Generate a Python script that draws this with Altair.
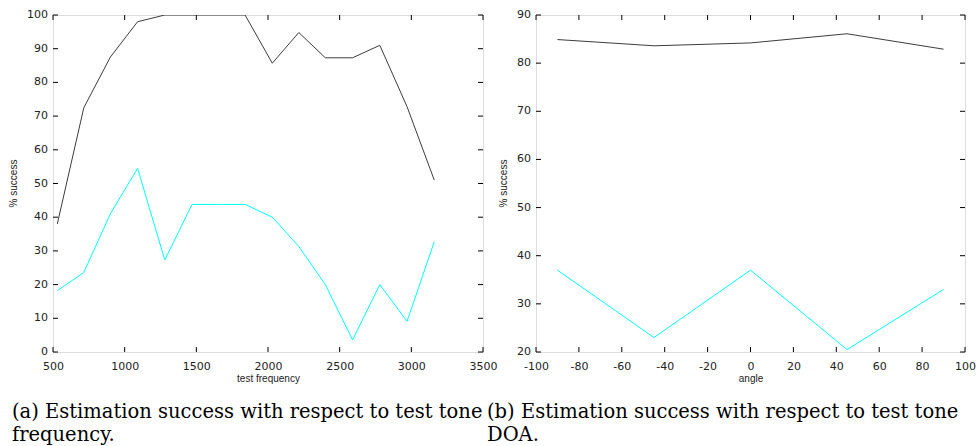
import altair as alt
import pandas as pd

# ---- data ----
freq = [530, 715, 900, 1090, 1280, 1470, 1655, 1840, 2030, 2215, 2400, 2590, 2780, 2970, 3160]
freq_upper = [38, 72.5, 87.5, 98, 100, 100, 100, 100, 85.7, 94.8, 87.3, 87.3, 91, 72.8, 51]
freq_lower = [18.2, 23.6, 41, 54.5, 27.3, 43.8, 43.8, 43.8, 40, 31.3, 20, 3.6, 20, 9.1, 32.7]

angle = [-90, -45, 0, 45, 90]
angle_upper = [84.9, 83.6, 84.2, 86.1, 82.9]
angle_lower = [37, 23, 37, 20.5, 33]

freq_xticks = [500, 1000, 1500, 2000, 2500, 3000, 3500]
freq_yticks = [0, 10, 20, 30, 40, 50, 60, 70, 80, 90, 100]
angle_xticks = [-100, -80, -60, -40, -20, 0, 20, 40, 60, 80, 100]
angle_yticks = [20, 30, 40, 50, 60, 70, 80, 90]

series_names = ["upper", "lower"]
series_colors = ["#3c3c3c", "#00ffff"]

caption_a = ["(a) Estimation success with respect to test tone", "frequency."]
caption_b = ["(b) Estimation success with respect to test tone", "DOA."]


def long_df(xs, up, lo):
    rows = []
    for x, v in zip(xs, up):
        rows.append({"x": x, "v": v, "series": series_names[0]})
    for x, v in zip(xs, lo):
        rows.append({"x": x, "v": v, "series": series_names[1]})
    return pd.DataFrame(rows)


LF = "DejaVu Sans"
TF = "Liberation Sans"
H = 337
TL = 5  # inner tick length


def panel(df, xdom, xticks, ydom, yticks, xtitle, caption, dx, W, yext):
    xs = alt.Scale(domain=xdom, nice=False, zero=False)
    ys = alt.Scale(domain=ydom, nice=False, zero=False)
    col = alt.Color("series:N", scale=alt.Scale(domain=series_names, range=series_colors), legend=None)

    x_axis = alt.Axis(
        orient="bottom", values=xticks, ticks=False, domain=False, grid=False,
        labelExpr="'' + datum.value", labelFont=LF, labelFontSize=11, labelColor="#222",
        labelPadding=8, labelOverlap=False, labelFlush=False, title=xtitle, titleFont=TF,
        titleFontSize=10, titleFontWeight="normal", titleColor="#222", titlePadding=2)
    y_axis = alt.Axis(
        orient="left", values=yticks, ticks=False, domain=False, grid=False, translate=0,
        labelExpr="'' + datum.value", labelFont=LF, labelFontSize=11, labelColor="#222",
        labelPadding=5, labelFlush=False, minExtent=yext, maxExtent=yext, title="% success",
        titleFont=TF, titleFontSize=10, titleFontWeight="normal", titleColor="#222", titlePadding=8)

    main = alt.Chart(df).mark_line(strokeWidth=1, clip=True).encode(
        x=alt.X("x:Q", scale=xs, axis=x_axis),
        y=alt.Y("v:Q", scale=ys, axis=y_axis),
        color=col,
    )

    xt = pd.DataFrame({"x": xticks})
    yt = pd.DataFrame({"v": yticks})
    rule = dict(color="black", strokeWidth=1)
    xt_bottom = alt.Chart(xt).mark_rule(**rule).encode(
        x=alt.X("x:Q", scale=xs, axis=None), y=alt.value(H), y2=alt.value(H - TL))
    xt_top = alt.Chart(xt).mark_rule(**rule).encode(
        x=alt.X("x:Q", scale=xs, axis=None), y=alt.value(0), y2=alt.value(TL))
    yt_left = alt.Chart(yt).mark_rule(**rule).encode(
        y=alt.Y("v:Q", scale=ys, axis=None), x=alt.value(0), x2=alt.value(TL))
    yt_right = alt.Chart(yt).mark_rule(**rule).encode(
        y=alt.Y("v:Q", scale=ys, axis=None), x=alt.value(W), x2=alt.value(W - TL))

    return alt.layer(main, xt_bottom, xt_top, yt_left, yt_right).resolve_axis(
        x="independent", y="independent"
    ).properties(
        width=W, height=H,
        title=alt.TitleParams(text=caption, orient="bottom", anchor="start", frame="group",
                              font="DejaVu Serif", fontSize=19.5, fontWeight="normal", color="black",
                              offset=20, dx=dx, lineHeight=23),
    )


left = panel(long_df(freq, freq_upper, freq_lower), [500, 3500], freq_xticks, [0, 100], freq_yticks,
             "test frequency", caption_a, -41, 430, 26)
right = panel(long_df(angle, angle_upper, angle_lower), [-100, 100], angle_xticks, [20, 90], angle_yticks,
              "angle", caption_b, -49, 429, 19)

chart = alt.hconcat(left, right, spacing=53, bounds="flush").properties(
    padding={"left": 8, "top": 8, "right": 0, "bottom": 0}
).configure_view(stroke="#222", strokeWidth=1).configure(background="white")

chart.save("out.html", embed_options={"renderer": "svg", "actions": False})
